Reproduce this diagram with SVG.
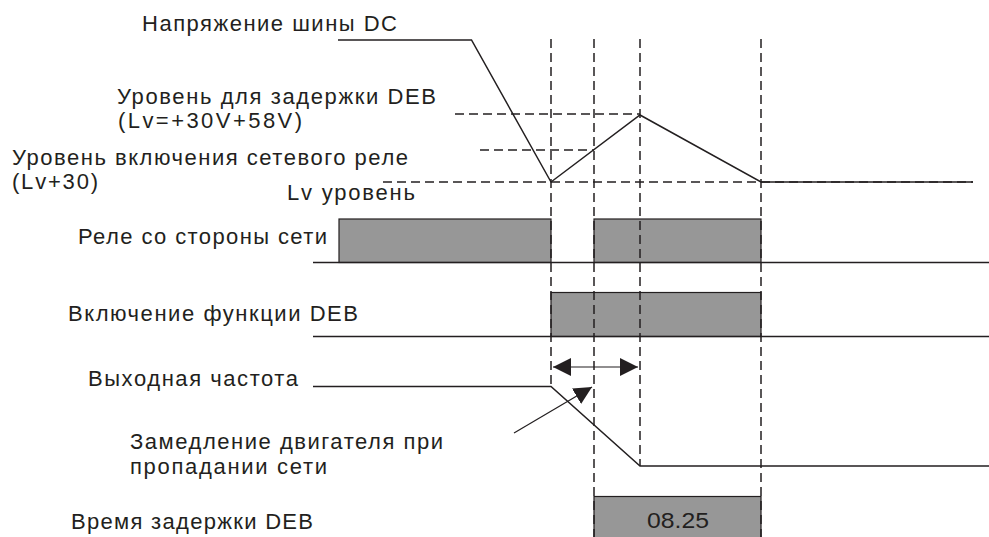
<svg xmlns="http://www.w3.org/2000/svg" width="989" height="537" viewBox="0 0 989 537">
<style>
text{font-family:"Liberation Sans",Arial,sans-serif;font-size:22px;fill:#231f20}
.s{fill:none;stroke:#231f20;stroke-width:1.5}
.d{fill:none;stroke:#231f20;stroke-width:1.5;stroke-dasharray:9 5}
.box{fill:#979797;stroke:#231f20;stroke-width:1.2}
.thin{fill:none;stroke:#231f20;stroke-width:1.2}
</style>
<defs>
<marker id="ah" viewBox="0 0 18 18" refX="18" refY="9" markerWidth="18" markerHeight="18" markerUnits="userSpaceOnUse" orient="auto-start-reverse">
<path d="M0,0 L18,9 L0,18 z" fill="#231f20"/>
</marker>
</defs>
<rect width="989" height="537" fill="#fff"/>

<g id="relay-box-1"><rect class="box" x="339" y="219" width="212" height="43.5"/></g>
<g id="relay-box-2"><rect class="box" x="594" y="219" width="167" height="43.5"/></g>
<g id="deb-box"><rect class="box" x="551" y="292.5" width="210" height="44"/></g>
<g id="delay-box"><rect class="box" x="594" y="496.5" width="167" height="45"/>
<text x="678" y="527.5" text-anchor="middle" textLength="62" lengthAdjust="spacingAndGlyphs">08.25</text></g>

<g id="connectors">
<line class="d" x1="551" y1="39" x2="551" y2="386"/>
<line class="d" x1="594" y1="39" x2="594" y2="537"/>
<line class="d" x1="640" y1="39" x2="640" y2="466"/>
<line class="d" x1="761" y1="39" x2="761" y2="537"/>
<line class="d" x1="455" y1="114" x2="640" y2="114"/>
<line class="d" x1="480" y1="150" x2="594" y2="150"/>
<line class="d" x1="383" y1="182" x2="973" y2="182"/>
<polyline class="s" points="338,40 471.5,40 551,182 640,115 761,182 973,182"/>
<line class="s" x1="313" y1="262.5" x2="989" y2="262.5"/>
<line class="s" x1="313" y1="336.5" x2="989" y2="336.5"/>
<polyline class="s" points="313,386.5 551,386.5 640,466 989,466"/>
<line class="thin" x1="553" y1="367" x2="638" y2="367" marker-start="url(#ah)" marker-end="url(#ah)"/>
<line class="thin" x1="514" y1="433" x2="592" y2="387" marker-end="url(#ah)"/>
</g>

<g id="labels">
<text x="142" y="30.5" textLength="255" lengthAdjust="spacing">Напряжение шины DC</text>
<text x="117" y="104" textLength="319" lengthAdjust="spacing">Уровень для задержки DEB</text>
<text x="118" y="128" textLength="184" lengthAdjust="spacing">(Lv=+30V+58V)</text>
<text x="12" y="164.5" textLength="396" lengthAdjust="spacing">Уровень включения сетевого реле</text>
<text x="12" y="188.5" textLength="86" lengthAdjust="spacing">(Lv+30)</text>
<text x="287" y="200" textLength="128" lengthAdjust="spacing">Lv уровень</text>
<text x="78" y="243.5" textLength="249" lengthAdjust="spacing">Реле со стороны сети</text>
<text x="68" y="321" textLength="290" lengthAdjust="spacing">Включение функции DEB</text>
<text x="88" y="385.5" textLength="210" lengthAdjust="spacing">Выходная частота</text>
<text x="130" y="448.5" textLength="313" lengthAdjust="spacing">Замедление двигателя при</text>
<text x="130" y="473.5" textLength="197" lengthAdjust="spacing">пропадании сети</text>
<text x="71" y="529" textLength="242" lengthAdjust="spacing">Время задержки DEB</text>
</g>
</svg>
